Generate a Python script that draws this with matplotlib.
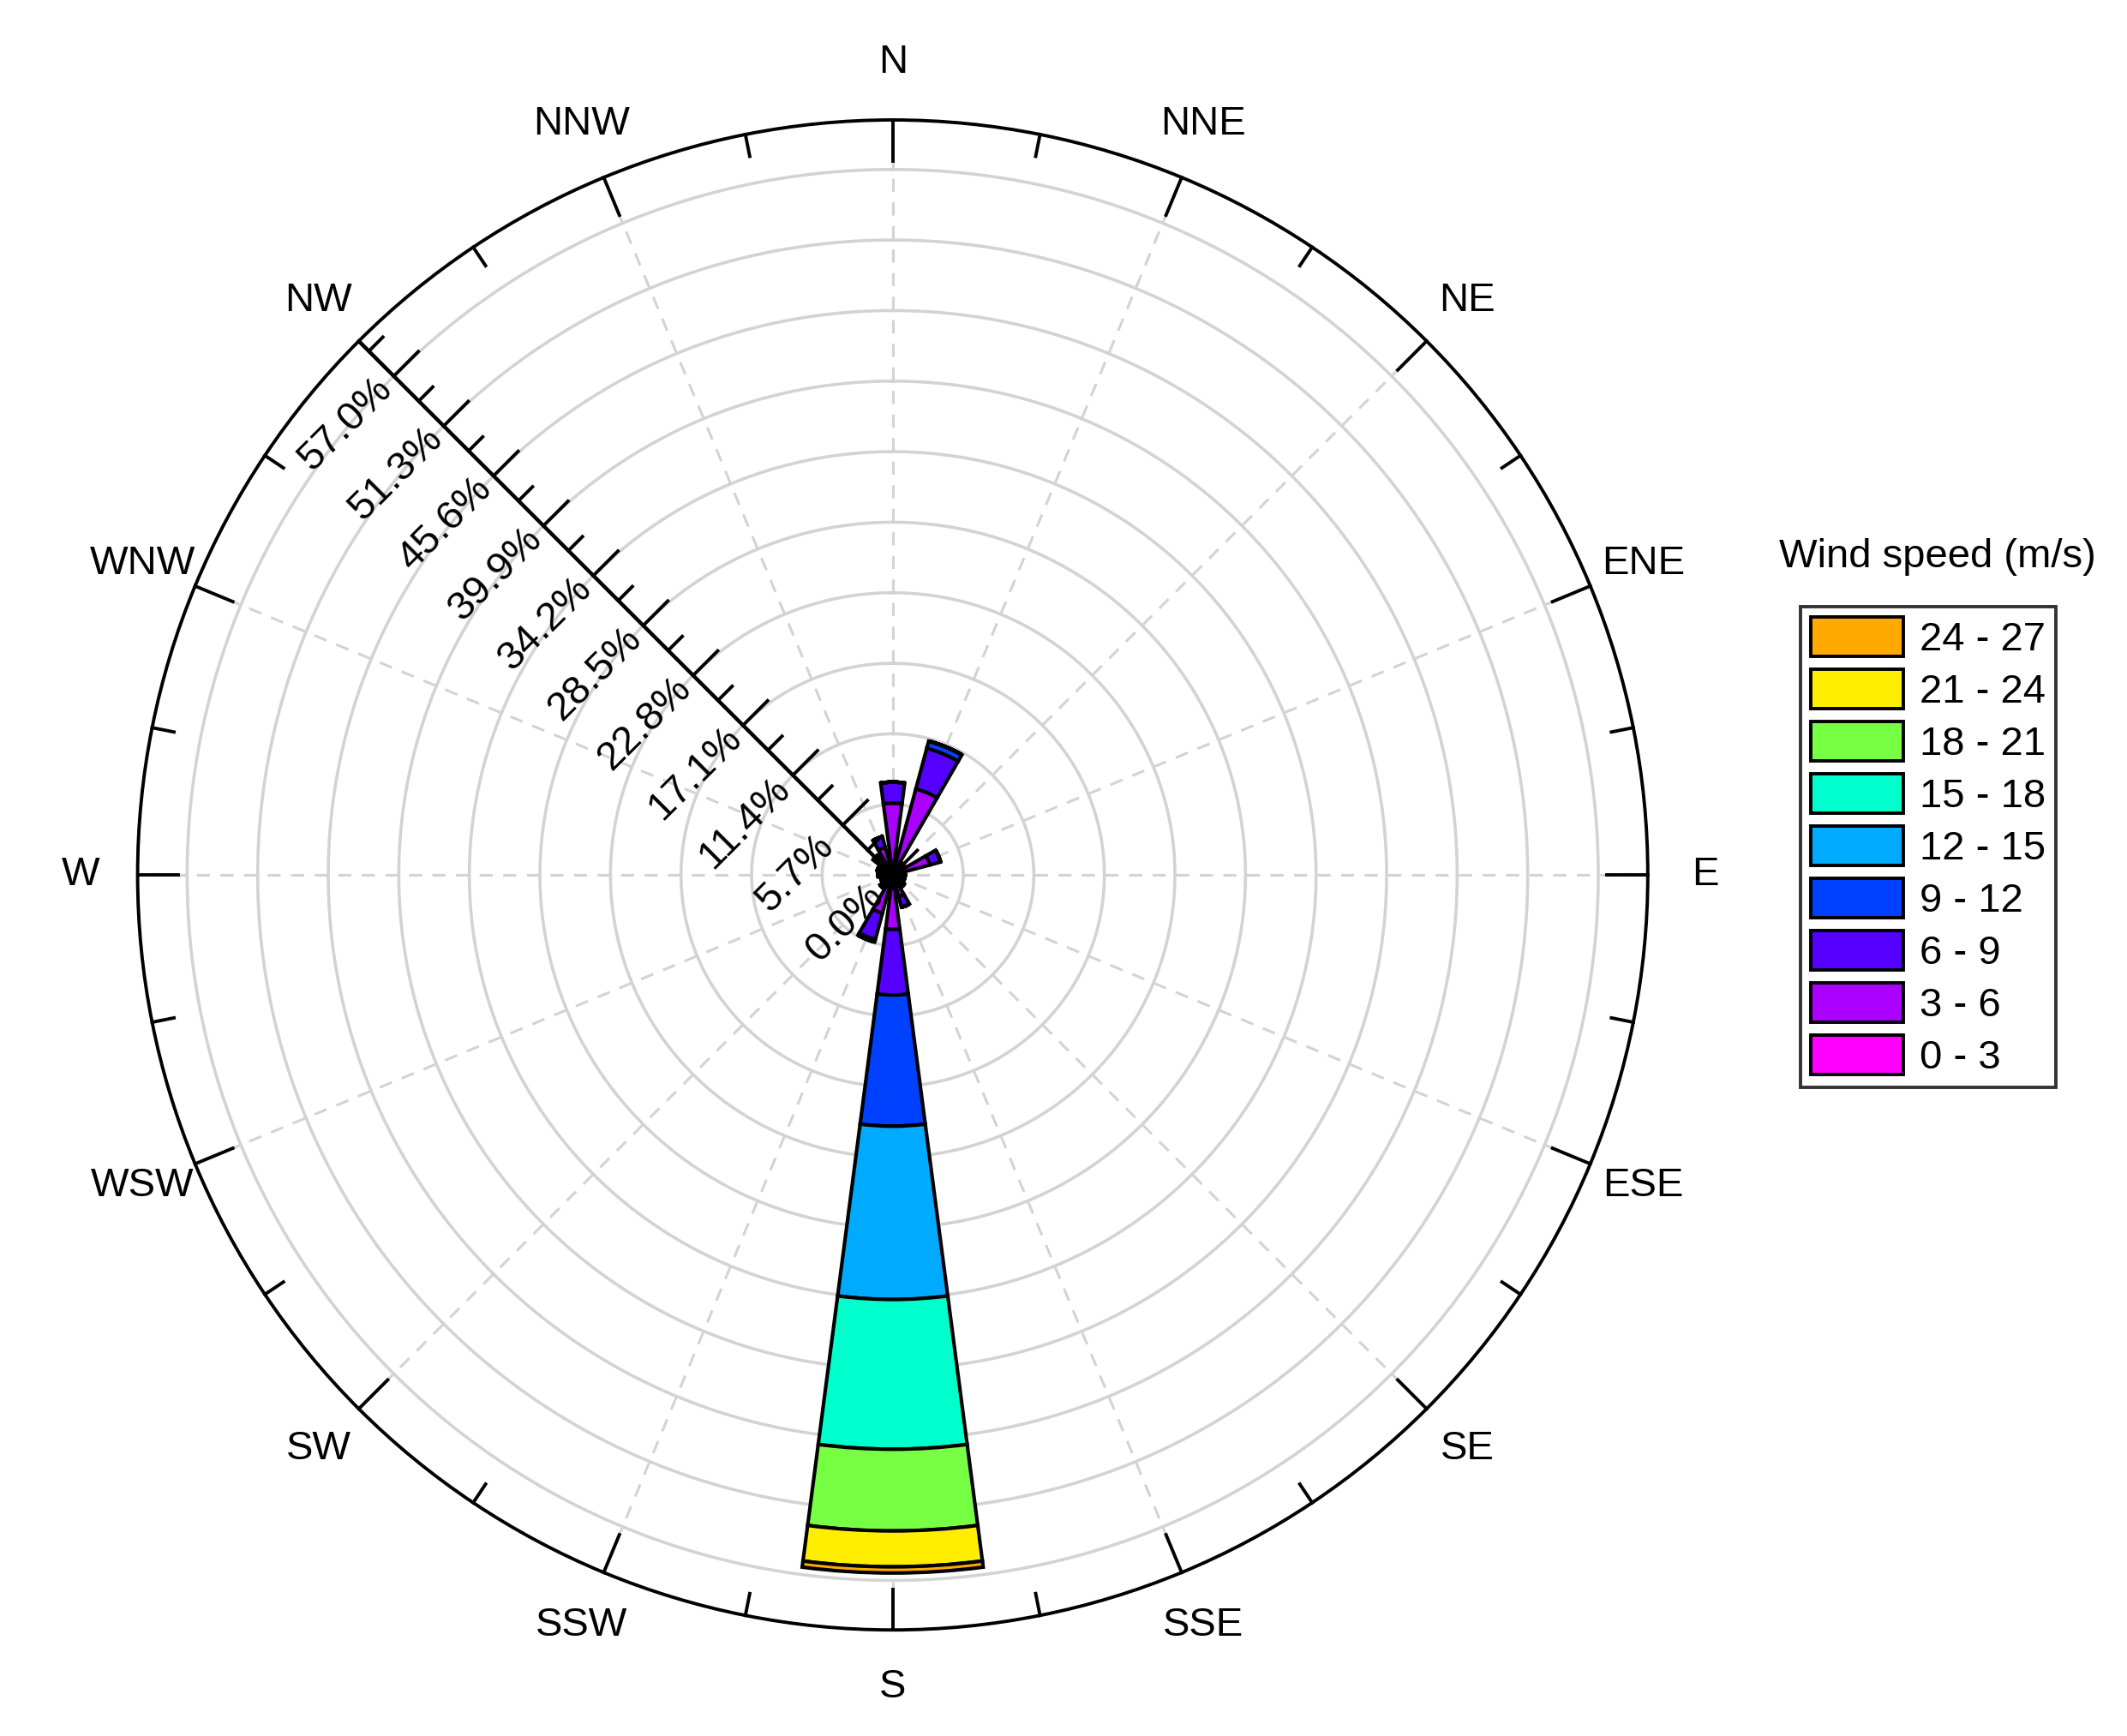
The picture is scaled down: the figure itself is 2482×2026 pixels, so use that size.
import numpy as np
import matplotlib
matplotlib.use("Agg")
import matplotlib.pyplot as plt
from matplotlib.patches import Patch

plt.rcParams['font.family'] = ['Liberation Sans', 'DejaVu Sans']

directions = ['N','NNE','NE','ENE','E','ESE','SE','SSE','S','SSW','SW','WSW','W','WNW','NW','NNW']
bins = ['0 - 3','3 - 6','6 - 9','9 - 12','12 - 15','15 - 18','18 - 21','21 - 24','24 - 27']
colors = ['#FF00FF','#AA00FF','#5500FF','#0040FF','#00AAFF','#00FFCC','#77FF44','#FFEE00','#FFAA00']
# frequency (%) per direction (rows) and speed bin (columns)
freq = [
    [0.5, 5.3, 1.7, 0, 0, 0, 0, 0, 0],      # N
    [0.5, 6.7, 3.4, 0.6, 0, 0, 0, 0, 0],    # NNE
    [0.5, 0.7, 0, 0, 0, 0, 0, 0, 0],        # NE
    [0.5, 2.6, 0.9, 0, 0, 0, 0, 0, 0],      # ENE
    [0.5, 0.5, 0, 0, 0, 0, 0, 0, 0],        # E
    [0.5, 0.5, 0, 0, 0, 0, 0, 0, 0],        # ESE
    [0.5, 0.7, 0, 0, 0, 0, 0, 0, 0],        # SE
    [0.5, 1.3, 0.9, 0, 0, 0, 0, 0, 0],      # SSE
    [0.5, 3.9, 5.3, 10.6, 14.0, 12.1, 6.6, 2.9, 0.5],  # S
    [0.5, 2.7, 2.2, 0.2, 0, 0, 0, 0, 0],    # SSW
    [0.5, 0.8, 0, 0, 0, 0, 0, 0, 0],        # SW
    [0.5, 0.5, 0, 0, 0, 0, 0, 0, 0],        # WSW
    [0.5, 0.7, 0, 0, 0, 0, 0, 0, 0],        # W
    [0.5, 0.8, 0, 0, 0, 0, 0, 0, 0],        # WNW
    [0.5, 1.2, 0.3, 0, 0, 0, 0, 0, 0],      # NW
    [0.5, 1.8, 0.9, 0, 0, 0, 0, 0, 0],      # NNW
]
rticks = [0.0, 5.7, 11.4, 17.1, 22.8, 28.5, 34.2, 39.9, 45.6, 51.3, 57.0]

freq = np.array(freq)
rmax = 61.0
fig = plt.figure(figsize=(12.41, 10.13), dpi=200)
ax = fig.add_axes([0.0647, 0.061, 0.710, 0.870], projection='polar')
ax.set_theta_zero_location('N')
ax.set_theta_direction(-1)
ax.set_ylim(0, rmax)

theta = np.deg2rad(np.arange(16) * 22.5)
ax.grid(False)
tt = np.linspace(0, 2*np.pi, 400)
for r in rticks[1:]:
    ax.plot(tt, np.full_like(tt, r), color='#D3D3D3', lw=1.3, zorder=0)
for t in theta:
    ax.plot([t, t], [0, rmax], color='#D3D3D3', lw=1.1, ls=(0, (5, 4)), zorder=0)

width = 0.26
bottom = np.zeros(16)
for j in range(len(bins)):
    vals = freq[:, j]
    ax.bar(theta, vals, width=width, bottom=bottom, color=colors[j],
           edgecolor='black', linewidth=1.5, zorder=3)
    bottom += vals

ax.set_yticks([])
ax.set_xticks(theta)
ax.set_xticklabels(directions, fontsize=17)
ax.tick_params(axis='x', pad=17, length=0)
ax.spines['polar'].set_linewidth(1.4)

for k in range(32):
    t = np.deg2rad(k * 11.25)
    L = 3.3 if k % 2 == 0 else 1.8
    ax.plot([t, t], [rmax - L, rmax], color='black', lw=1.4, zorder=4, clip_on=False)

ta = np.deg2rad(315)
ax.plot([ta, ta], [0, rmax], color='black', lw=1.6, zorder=5)
def polar_to_xy(t, r):
    return r * np.sin(t), r * np.cos(t)
for i in range(2 * len(rticks)):
    r = i * 2.85
    if r > rmax:
        break
    major = (i % 2 == 0)
    L = 2.8 if major else 1.6
    x0, y0 = polar_to_xy(ta, r)
    x1, y1 = x0 + L / np.sqrt(2), y0 + L / np.sqrt(2)
    ax.plot([ta, np.arctan2(x1, y1)], [r, np.hypot(x1, y1)], color='black', lw=1.4, zorder=5)
for r in rticks:
    x0, y0 = polar_to_xy(ta, r)
    d = 5.5
    x1, y1 = x0 - d / np.sqrt(2), y0 - d / np.sqrt(2)
    ax.text(np.arctan2(x1, y1), np.hypot(x1, y1), f'{r:.1f}%', rotation=45,
            rotation_mode='anchor', ha='center', va='center', fontsize=17, zorder=6)

handles = [Patch(facecolor=c, edgecolor='black', linewidth=1.4, label=b)
           for c, b in zip(colors[::-1], bins[::-1])]
leg = fig.legend(handles=handles, loc='upper left', bbox_to_anchor=(0.837, 0.662),
                 fontsize=17, frameon=True, fancybox=False, edgecolor='black',
                 handlelength=2.3, handleheight=1.1, labelspacing=0.26,
                 borderpad=0.25, handletextpad=0.4)
leg.get_frame().set_linewidth(1.4)
fig.text(0.911, 0.679, 'Wind speed (m/s)', fontsize=17, ha='center', va='center')

fig.savefig('out.png', dpi=200)
